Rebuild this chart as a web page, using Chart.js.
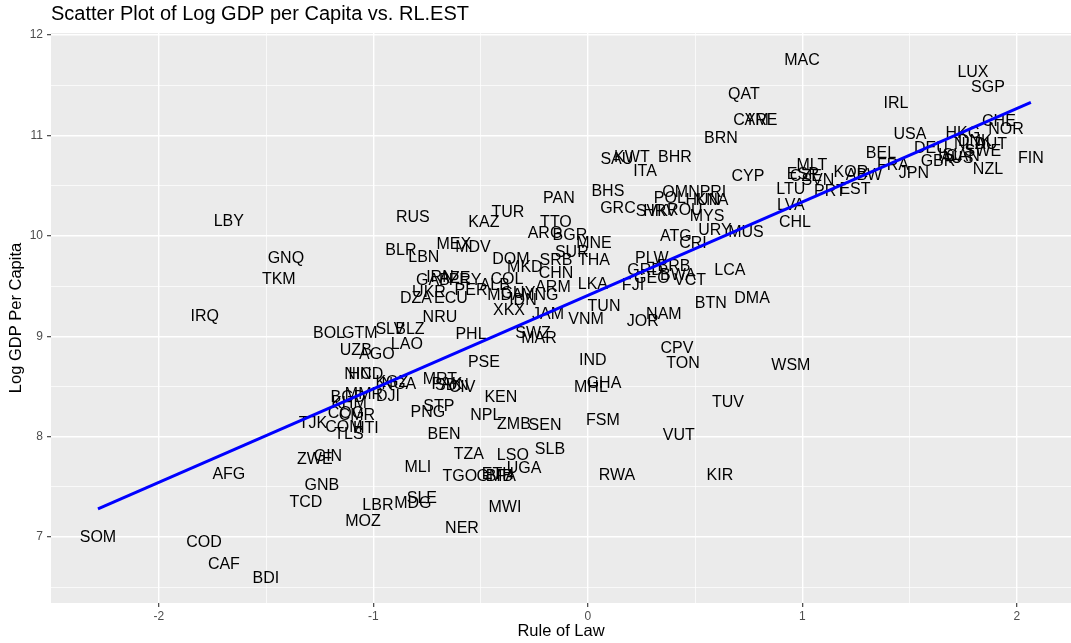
<!DOCTYPE html>
<html>
<head>
<meta charset="utf-8">
<script src="https://cdn.jsdelivr.net/npm/chart.js@4.4.1/dist/chart.umd.min.js"></script>
<style>
    html, body { margin: 0; padding: 0; background: #ffffff; }
    canvas { display: block; }
</style>
</head>
<body>
<canvas id="graficoDispersao" width="1071" height="643"></canvas>
<script>
// códigos dos países, estado de direito (RL.EST) e log do PIB per capita
const paises = [
    "SOM", "COD", "CAF", "BDI", "AFG", "LBY", "GNQ", "TKM", "IRQ", "TCD",
    "GNB", "ZWE", "GIN", "MOZ", "LBR", "MDG", "SLE", "NER", "MLI", "TZA",
    "TGO", "GMB", "ETH", "BFA", "LSO", "UGA", "MWI", "SLB", "RWA", "KIR",
    "VUT", "FSM", "TUV", "WSM", "TON", "CPV", "IND", "MHL", "GHA", "KEN",
    "NPL", "ZMB", "SEN", "BEN", "STP", "PNG", "MRT", "PAK", "SDN", "CIV",
    "PSE", "PHL", "SWZ", "MAR", "TJK", "COM", "HTI", "TLS", "COG", "CMR",
    "BGD", "KHM", "MMR", "DJI", "KGZ", "NGA", "NIC", "HND", "UZB", "AGO",
    "LAO", "BOL", "GTM", "SLV", "BLZ", "NRU", "DZA", "ECU", "UKR", "PER",
    "GAB", "IRN", "AZE", "PRY", "COL", "ALB", "MDA", "GUY", "MNG", "IDN",
    "XKX", "JAM", "ARM", "CHN", "MKD", "DOM", "SRB", "THA", "SUR", "MNE",
    "BGR", "ARG", "TTO", "PAN", "MEX", "MDV", "BLR", "LBN", "RUS", "KAZ",
    "TUR", "LKA", "TUN", "VNM", "JOR", "NAM", "BTN", "DMA", "FJI", "GEO",
    "GRD", "BRB", "BWA", "VCT", "PLW", "LCA", "ATG", "CRI", "URY", "MUS",
    "MYS", "ROU", "SVK", "HRV", "GRC", "BHS", "POL", "OMN", "HUN", "KNA",
    "PRI", "SAU", "KWT", "BHR", "ITA", "CYP", "BRN", "CYM", "ARE", "QAT",
    "MAC", "CHL", "LVA", "LTU", "ESP", "CZE", "SVN", "MLT", "PRT", "EST",
    "KOR", "ABW", "BEL", "FRA", "JPN", "USA", "IRL", "GBR", "DEU", "ISL",
    "AUS", "CAN", "HKG", "DNK", "NLD", "SWE", "AUT", "NZL", "CHE", "NOR",
    "LUX", "SGP", "FIN"
];

const estadoDireito = [
    -2.284, -1.790, -1.697, -1.501, -1.674, -1.674, -1.408, -1.441, -1.786, -1.315,
    -1.240, -1.273, -1.212, -1.049, -0.979, -0.816, -0.774, -0.587, -0.793, -0.555,
    -0.597, -0.434, -0.420, -0.406, -0.350, -0.298, -0.387, -0.177, 0.135, 0.615,
    0.424, 0.070, 0.653, 0.946, 0.443, 0.415, 0.023, 0.014, 0.075, -0.406,
    -0.476, -0.345, -0.200, -0.671, -0.695, -0.746, -0.690, -0.657, -0.634, -0.587,
    -0.485, -0.545, -0.256, -0.228, -1.282, -1.138, -1.035, -1.114, -1.128, -1.077,
    -1.119, -1.114, -1.044, -0.932, -0.914, -0.881, -1.072, -1.035, -1.082, -0.984,
    -0.844, -1.207, -1.063, -0.923, -0.830, -0.690, -0.802, -0.639, -0.741, -0.545,
    -0.723, -0.690, -0.620, -0.573, -0.378, -0.434, -0.387, -0.326, -0.224, -0.303,
    -0.368, -0.186, -0.163, -0.149, -0.294, -0.359, -0.149, 0.028, -0.075, 0.028,
    -0.084, -0.200, -0.149, -0.135, -0.625, -0.536, -0.872, -0.765, -0.816, -0.485,
    -0.373, 0.023, 0.075, -0.009, 0.256, 0.354, 0.573, 0.765, 0.210, 0.298,
    0.266, 0.401, 0.420, 0.476, 0.298, 0.662, 0.410, 0.490, 0.592, 0.737,
    0.555, 0.452, 0.298, 0.336, 0.140, 0.093, 0.382, 0.434, 0.536, 0.578,
    0.583, 0.135, 0.205, 0.406, 0.266, 0.746, 0.620, 0.760, 0.807, 0.727,
    0.998, 0.965, 0.946, 0.946, 1.002, 1.016, 1.072, 1.044, 1.128, 1.245,
    1.226, 1.287, 1.366, 1.422, 1.520, 1.501, 1.436, 1.632, 1.599, 1.688,
    1.720, 1.748, 1.748, 1.804, 1.781, 1.841, 1.879, 1.865, 1.916, 1.949,
    1.795, 1.865, 2.065
];

const logPib = [
    7.00, 6.95, 6.74, 6.60, 7.63, 10.15, 9.78, 9.57, 9.21, 7.35,
    7.52, 7.78, 7.81, 7.16, 7.32, 7.34, 7.39, 7.09, 7.70, 7.83,
    7.61, 7.61, 7.63, 7.61, 7.82, 7.69, 7.30, 7.88, 7.62, 7.62,
    8.02, 8.17, 8.35, 8.72, 8.74, 8.89, 8.77, 8.50, 8.54, 8.40,
    8.22, 8.13, 8.12, 8.03, 8.31, 8.25, 8.58, 8.53, 8.52, 8.50,
    8.75, 9.03, 9.04, 8.99, 8.14, 8.10, 8.09, 8.03, 8.24, 8.22,
    8.40, 8.34, 8.43, 8.41, 8.55, 8.53, 8.63, 8.63, 8.87, 8.83,
    8.93, 9.04, 9.04, 9.08, 9.08, 9.20, 9.38, 9.38, 9.44, 9.46,
    9.56, 9.59, 9.58, 9.56, 9.57, 9.51, 9.41, 9.43, 9.41, 9.36,
    9.27, 9.23, 9.49, 9.63, 9.69, 9.77, 9.76, 9.76, 9.84, 9.93,
    10.01, 10.03, 10.14, 10.38, 9.92, 9.89, 9.86, 9.79, 10.19, 10.14,
    10.24, 9.52, 9.31, 9.18, 9.16, 9.23, 9.33, 9.38, 9.51, 9.58,
    9.66, 9.70, 9.61, 9.56, 9.78, 9.66, 10.00, 9.93, 10.06, 10.04,
    10.20, 10.26, 10.25, 10.25, 10.28, 10.45, 10.38, 10.44, 10.36, 10.36,
    10.44, 10.77, 10.79, 10.79, 10.65, 10.60, 10.98, 11.16, 11.16, 11.42,
    11.76, 10.14, 10.31, 10.47, 10.62, 10.60, 10.56, 10.71, 10.45, 10.47,
    10.64, 10.61, 10.83, 10.71, 10.63, 11.02, 11.33, 10.75, 10.88, 10.81,
    10.78, 10.80, 11.03, 10.95, 10.92, 10.85, 10.92, 10.67, 11.15, 11.07,
    11.64, 11.49, 10.78
];

// reta de regressão (lm)
const retaX = [-2.284, 2.065];
const retaY = [7.28, 11.33];

const ticksX = [-2, -1, 0, 1, 2];
const ticksXMenores = [-1.5, -0.5, 0.5, 1.5];
const ticksY = [7, 8, 9, 10, 11, 12];
const ticksYMenores = [6.5, 7.5, 8.5, 9.5, 10.5, 11.5];

const fonte = '"Liberation Sans", Arial, Helvetica, sans-serif';

const pontos = [];
for (let i = 0; i < paises.length; i++) {
    pontos.push({ x: estadoDireito[i], y: logPib[i] });
}

const reta = [];
for (let i = 0; i < retaX.length; i++) {
    reta.push({ x: retaX[i], y: retaY[i] });
}

// fundo cinza do painel
const fundoPainel = {
    id: 'fundoPainel',
    beforeDraw(chart) {
        const { ctx, chartArea } = chart;
        ctx.save();
        ctx.fillStyle = '#EBEBEB';
        ctx.fillRect(chartArea.left, chartArea.top, chartArea.right - chartArea.left, chartArea.bottom - chartArea.top);
        ctx.restore();
    }
};

// escreve o código do país no lugar de cada ponto
const rotulosPaises = {
    id: 'rotulosPaises',
    beforeDatasetsDraw(chart) {
        const ctx = chart.ctx;
        const meta = chart.getDatasetMeta(0);
        ctx.save();
        ctx.font = '16px ' + fonte;
        ctx.fillStyle = '#000000';
        ctx.textAlign = 'center';
        ctx.textBaseline = 'middle';
        for (let i = 0; i < meta.data.length; i++) {
            const ponto = meta.data[i];
            ctx.fillText(paises[i], ponto.x, ponto.y + 1);
        }
        ctx.restore();
    }
};

function ehMaior(lista, valor) {
    return lista.indexOf(valor) !== -1;
}

new Chart(document.getElementById('graficoDispersao'), {
    type: 'scatter',
    data: {
        datasets: [{
            label: 'Países',
            data: pontos,
            pointRadius: 0,
            pointHoverRadius: 0
        }, {
            label: 'Regressão',
            data: reta,
            showLine: true,
            borderColor: '#0000FF',
            borderWidth: 3,
            pointRadius: 0,
            pointHoverRadius: 0,
            fill: false
        }]
    },
    options: {
        responsive: false,
        animation: false,
        events: [],
        layout: { padding: 0 },
        plugins: {
            legend: { display: false },
            tooltip: { enabled: false },
            title: {
                display: true,
                text: 'Scatter Plot of Log GDP per Capita vs. RL.EST',
                align: 'start',
                fullSize: false,
                color: '#000000',
                font: { family: fonte, size: 20, weight: 'normal' },
                padding: { top: 2, bottom: 7 }
            }
        },
        scales: {
            x: {
                type: 'linear',
                min: -2.503,
                max: 2.252,
                afterBuildTicks: function (escala) {
                    escala.ticks = ticksXMenores.concat(ticksX)
                        .sort((a, b) => a - b)
                        .map(v => ({ value: v }));
                },
                afterFit: function (escala) {
                    escala.height = 40;
                },
                border: { display: false },
                grid: {
                    color: '#FFFFFF',
                    lineWidth: ctx => ehMaior(ticksX, ctx.tick.value) ? 1.4 : 0.7,
                    tickColor: ctx => ehMaior(ticksX, ctx.tick.value) ? '#333333' : 'rgba(0,0,0,0)',
                    tickLength: 4,
                    tickWidth: 1.1
                },
                ticks: {
                    autoSkip: false,
                    maxRotation: 0,
                    padding: 2,
                    color: '#4D4D4D',
                    font: { family: fonte, size: 12 },
                    callback: v => ehMaior(ticksX, v) ? String(v) : ''
                },
                title: {
                    display: true,
                    text: 'Rule of Law',
                    color: '#000000',
                    font: { family: fonte, size: 16.5 },
                    padding: { top: 0, bottom: 2 }
                }
            },
            y: {
                type: 'linear',
                min: 6.343,
                max: 12.02,
                afterBuildTicks: function (escala) {
                    escala.ticks = ticksYMenores.concat(ticksY)
                        .sort((a, b) => a - b)
                        .map(v => ({ value: v }));
                },
                afterFit: function (escala) {
                    escala.width = 51;
                },
                border: { display: false },
                grid: {
                    color: '#FFFFFF',
                    lineWidth: ctx => ehMaior(ticksY, ctx.tick.value) ? 1.4 : 0.7,
                    tickColor: ctx => ehMaior(ticksY, ctx.tick.value) ? '#333333' : 'rgba(0,0,0,0)',
                    tickLength: 4,
                    tickWidth: 1.1
                },
                ticks: {
                    autoSkip: false,
                    padding: 4,
                    color: '#4D4D4D',
                    font: { family: fonte, size: 12 },
                    callback: v => ehMaior(ticksY, v) ? String(v) : ''
                },
                title: {
                    display: true,
                    text: 'Log GDP Per Capita',
                    color: '#000000',
                    font: { family: fonte, size: 16.5 },
                    padding: { top: 7, bottom: 0 }
                }
            }
        }
    },
    plugins: [fundoPainel, rotulosPaises]
});
</script>
</body>
</html>
